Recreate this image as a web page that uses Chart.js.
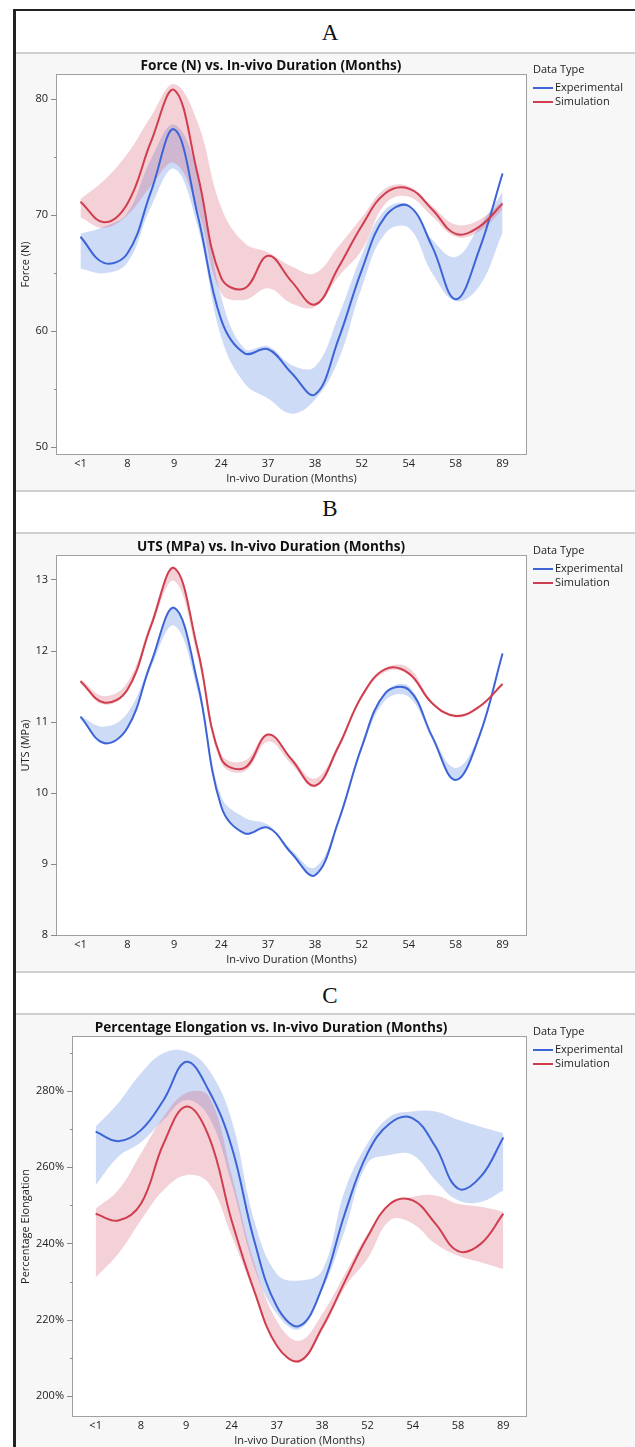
<!DOCTYPE html>
<html>
<head>
<meta charset="utf-8">
<script src="https://cdn.jsdelivr.net/npm/chart.js@4.4.1/dist/chart.umd.min.js"></script>
<style>
  body { margin: 0; background: #fff; }
  #page { position: relative; width: 635px; height: 1447px; overflow: hidden; background: #fff; }
  .abs { position: absolute; }
  .line { position: absolute; background: #cfcfcf; left: 16px; width: 619px; height: 2px; }
  .letter { position: absolute; left: 0; width: 660px; text-align: center; font: 23px/23px "Liberation Serif", serif; color: #111; }
  canvas { position: absolute; left: 16px; }
</style>
</head>
<body>
<div id="page">
  <div class="letter" style="top:21px">A</div>
  <div class="letter" style="top:497px">B</div>
  <div class="letter" style="top:984px">C</div>
  <canvas id="chartA" width="619" height="437" style="top:53px"></canvas>
  <canvas id="chartB" width="619" height="437" style="top:534px"></canvas>
  <canvas id="chartC" width="619" height="437" style="top:1015px"></canvas>
  <div class="line" style="top:52px"></div>
  <div class="line" style="top:490px"></div>
  <div class="line" style="top:532px"></div>
  <div class="line" style="top:971px"></div>
  <div class="line" style="top:1013px"></div>
  <div class="abs" style="left:13px;top:9px;width:622px;height:2px;background:#222"></div>
  <div class="abs" style="left:13px;top:9px;width:3px;height:1438px;background:#222"></div>
</div>
<script>
// categories on the x axis, and the half-step positions the curves were read at
const categories = ["<1", "8", "9", "24", "37", "38", "52", "54", "58", "89"];
const xPos = [0, 0.5, 1, 1.5, 2, 2.5, 3, 3.5, 4, 4.5, 5, 5.5, 6, 6.5, 7, 7.5, 8, 8.5, 9];

// A: Force (N)
const forceExp   = [68.15, 65.9, 66.7, 72.0, 77.4, 70.0, 61.0, 58.1, 58.45, 56.4, 54.55, 59.3, 65.3, 69.9, 70.8, 67.3, 62.75, 67.0, 73.6];
const forceExpHi = [68.4, 69.0, 70.2, 74.8, 77.8, 73.6, 63.0, 58.5, 58.7, 57.1, 56.95, 61.3, 66.6, 70.5, 70.9, 67.9, 66.4, 69.0, 72.0];
const forceExpLo = [65.4, 65.0, 65.9, 70.7, 74.0, 69.0, 59.5, 55.5, 54.2, 52.9, 54.1, 57.5, 63.8, 68.45, 68.9, 65.0, 62.6, 63.85, 68.5];
const forceSim   = [71.17, 69.4, 71.0, 76.3, 80.8, 73.5, 64.6, 63.7, 66.5, 64.3, 62.3, 65.5, 69.1, 71.9, 72.3, 70.5, 68.4, 69.0, 71.0];
const forceSimHi = [71.4, 73.0, 75.3, 78.5, 81.3, 78.0, 70.7, 67.6, 66.8, 65.6, 65.0, 67.3, 69.8, 72.3, 72.5, 70.8, 69.2, 69.6, 71.2];
const forceSimLo = [69.8, 68.9, 70.0, 72.5, 74.5, 70.5, 63.3, 62.7, 63.7, 62.4, 62.1, 64.7, 67.0, 71.0, 71.6, 69.9, 68.15, 68.6, 70.5];
const forceTicks = [50, 60, 70, 80];
const forceMinor = [55, 65, 75];

// B: UTS (MPa)
const utsExp   = [11.07, 10.70, 10.91, 11.82, 12.6, 11.54, 9.81, 9.43, 9.51, 9.15, 8.84, 9.6, 10.65, 11.4, 11.45, 10.79, 10.18, 10.79, 11.96];
const utsExpHi = [11.08, 10.93, 11.12, 11.85, 12.62, 11.58, 9.95, 9.65, 9.55, 9.2, 8.95, 9.62, 10.68, 11.42, 11.5, 10.82, 10.35, 10.82, 11.97];
const utsExpLo = [11.05, 10.68, 10.9, 11.75, 12.35, 11.42, 9.8, 9.42, 9.5, 9.13, 8.83, 9.55, 10.6, 11.3, 11.35, 10.75, 10.17, 10.76, 11.94];
const utsSim   = [11.57, 11.27, 11.45, 12.34, 13.16, 12.01, 10.48, 10.35, 10.82, 10.47, 10.1, 10.65, 11.36, 11.74, 11.68, 11.26, 11.08, 11.21, 11.53];
const utsSimHi = [11.6, 11.36, 11.55, 12.4, 13.18, 12.06, 10.55, 10.45, 10.83, 10.5, 10.2, 10.68, 11.38, 11.75, 11.76, 11.28, 11.1, 11.22, 11.55];
const utsSimLo = [11.54, 11.24, 11.42, 12.3, 12.98, 11.9, 10.42, 10.3, 10.72, 10.4, 10.08, 10.6, 11.33, 11.7, 11.66, 11.24, 11.06, 11.19, 11.52];
const utsTicks = [8, 9, 10, 11, 12, 13];
const utsMinor = [];

// C: Percentage Elongation
const elongExp   = [269.3, 266.8, 269.7, 277.6, 287.6, 280.0, 265.4, 240.8, 223.5, 218.4, 228.5, 247.8, 263.6, 271.5, 272.8, 265.4, 254.4, 257.5, 267.8];
const elongExpHi = [270.6, 276.8, 284.6, 289.9, 290.3, 285.5, 272.4, 246.1, 232.0, 230.3, 232.9, 253.9, 266.2, 273.3, 274.6, 274.6, 272.4, 270.6, 268.9];
const elongExpLo = [255.3, 262.7, 266.5, 272.4, 277.6, 273.2, 255.7, 233.8, 221.5, 217.5, 227.6, 243.4, 261.0, 263.2, 263.2, 256.6, 251.3, 250.9, 253.9];
const elongSim   = [247.8, 246.0, 250.4, 266.2, 275.9, 268.0, 246.1, 227.6, 213.2, 209.2, 218.0, 230.0, 241.7, 250.4, 251.3, 245.2, 238.0, 239.9, 247.8];
const elongSimHi = [249.1, 254.0, 263.6, 273.2, 279.4, 278.5, 258.0, 235.0, 219.7, 214.5, 221.5, 232.0, 242.5, 250.4, 252.2, 252.6, 250.4, 249.6, 248.3];
const elongSimLo = [231.1, 237.3, 246.1, 254.0, 257.9, 255.7, 242.0, 227.0, 213.0, 208.8, 217.1, 228.5, 236.0, 246.1, 245.2, 239.9, 236.8, 235.1, 233.3];
const elongTicks = [200, 220, 240, 260, 280];
const elongMinor = [210, 230, 250, 270, 290];

const BLUE = "#3d64d6";
const RED = "#cf3d4e";
const BLUE_FILL = "rgba(93,137,230,0.3)";
const RED_FILL = "rgba(214,90,110,0.28)";
const FONT = "'Open Sans', 'Noto Sans', sans-serif";

const pts = (arr) => arr.map((v, i) => ({ x: xPos[i], y: v }));

// draws the plot background, frame, tick marks, titles and legend
const decor = {
  id: "decor",
  beforeDraw(chart) {
    const { ctx, chartArea: a } = chart;
    ctx.save();
    ctx.fillStyle = "#f7f7f7";
    ctx.fillRect(0, 0, chart.width, chart.height);
    ctx.fillStyle = "#fff";
    ctx.fillRect(a.left, a.top, a.right - a.left, a.bottom - a.top);
    ctx.restore();
  },
  afterDraw(chart, args, o) {
    const { ctx, chartArea: a } = chart;
    const y = chart.scales.y;
    ctx.save();
    ctx.strokeStyle = "#a0a0a0";
    ctx.lineWidth = 1;
    ctx.strokeRect(a.left - 0.5, a.top - 0.5, a.right - a.left + 1, a.bottom - a.top + 1);

    ctx.strokeStyle = "#8a8a8a";
    ctx.beginPath();
    o.major.forEach((v) => {
      const p = Math.round(y.getPixelForValue(v)) + 0.5;
      ctx.moveTo(a.left - 6, p);
      ctx.lineTo(a.left, p);
    });
    o.minor.forEach((v) => {
      const p = Math.round(y.getPixelForValue(v)) + 0.5;
      ctx.moveTo(a.left - 3, p);
      ctx.lineTo(a.left, p);
    });
    ctx.stroke();

    ctx.fillStyle = "#111";
    ctx.textBaseline = "middle";
    ctx.textAlign = "center";
    ctx.font = "bold 13.6px " + FONT;
    ctx.fillText(o.title, 255, 13.5);

    ctx.fillStyle = "#222";
    ctx.font = "11px " + FONT;
    ctx.fillText("In-vivo Duration (Months)", (a.left + a.right) / 2, a.bottom + 25);

    ctx.save();
    ctx.translate(9.5, (a.top + a.bottom) / 2);
    ctx.rotate(-Math.PI / 2);
    ctx.fillText(o.yTitle, 0, 0);
    ctx.restore();

    // legend
    ctx.textAlign = "left";
    ctx.font = "11px " + FONT;
    ctx.fillText("Data Type", 517, 17);
    [["Experimental", BLUE, 35], ["Simulation", RED, 49]].forEach(([label, c, ly]) => {
      ctx.strokeStyle = c;
      ctx.lineWidth = 2;
      ctx.beginPath();
      ctx.moveTo(517, ly);
      ctx.lineTo(537, ly);
      ctx.stroke();
      ctx.fillText(label, 539, ly);
    });
    ctx.restore();
  },
};

function makeChart(id, cfg) {
  const band = (data, fillColor, order, fill) => ({
    data: pts(data),
    fill: fill,
    backgroundColor: fillColor,
    borderColor: "rgba(0,0,0,0)",
    borderWidth: 1,
    pointRadius: 0,
    tension: 0.4,
    order: order,
  });
  const line = (data, color, order) => ({
    data: pts(data),
    fill: false,
    borderColor: color,
    borderWidth: 2,
    pointRadius: 0,
    tension: 0.4,
    order: order,
  });

  return new Chart(document.getElementById(id), {
    type: "line",
    data: {
      datasets: [
        band(cfg.expHi, BLUE_FILL, 3, "+1"),
        band(cfg.expLo, BLUE_FILL, 3, false),
        band(cfg.simHi, RED_FILL, 2, "+1"),
        band(cfg.simLo, RED_FILL, 2, false),
        line(cfg.exp, BLUE, 1),
        line(cfg.sim, RED, 0),
      ],
    },
    options: {
      responsive: false,
      animation: false,
      devicePixelRatio: 1,
      layout: { padding: { top: 22, right: 109, bottom: 0, left: 0 } },
      plugins: {
        legend: { display: false },
        tooltip: { enabled: false },
        decor: { title: cfg.title, yTitle: cfg.yTitle, major: cfg.ticks, minor: cfg.minor },
      },
      scales: {
        x: {
          type: "linear",
          min: -0.5,
          max: 9.5,
          afterBuildTicks: (s) => { s.ticks = categories.map((c, i) => ({ value: i })); },
          afterFit: (s) => { s.height = 36; },
          grid: { display: false, drawTicks: false },
          border: { display: false },
          ticks: {
            autoSkip: false,
            maxRotation: 0,
            padding: 3,
            color: "#222",
            font: { family: FONT, size: 11 },
            callback: (v) => categories[v],
          },
        },
        y: {
          min: cfg.yMin,
          max: cfg.yMax,
          afterBuildTicks: (s) => { s.ticks = cfg.ticks.map((v) => ({ value: v })); },
          afterFit: (s) => { s.width = cfg.yWidth; },
          grid: { display: false, drawTicks: true, tickLength: 6 },
          border: { display: false },
          ticks: {
            padding: 3,
            color: "#222",
            font: { family: FONT, size: 11 },
            callback: cfg.fmt,
          },
        },
      },
    },
    plugins: [decor],
  });
}

makeChart("chartA", {
  title: "Force (N) vs. In-vivo Duration (Months)",
  yTitle: "Force (N)",
  exp: forceExp, expHi: forceExpHi, expLo: forceExpLo,
  sim: forceSim, simHi: forceSimHi, simLo: forceSimLo,
  ticks: forceTicks, minor: forceMinor,
  yMin: 49.42, yMax: 82.09, yWidth: 41,
  fmt: (v) => String(v),
});

makeChart("chartB", {
  title: "UTS (MPa) vs. In-vivo Duration (Months)",
  yTitle: "UTS (MPa)",
  exp: utsExp, expHi: utsExpHi, expLo: utsExpLo,
  sim: utsSim, simHi: utsSimHi, simLo: utsSimLo,
  ticks: utsTicks, minor: utsMinor,
  yMin: 8.0, yMax: 13.33, yWidth: 41,
  fmt: (v) => String(v),
});

makeChart("chartC", {
  title: "Percentage Elongation vs. In-vivo Duration (Months)",
  yTitle: "Percentage Elongation",
  exp: elongExp, expHi: elongExpHi, expLo: elongExpLo,
  sim: elongSim, simHi: elongSimHi, simLo: elongSimLo,
  ticks: elongTicks, minor: elongMinor,
  yMin: 194.8, yMax: 294.1, yWidth: 57,
  fmt: (v) => v + "%",
});
</script>
</body>
</html>
